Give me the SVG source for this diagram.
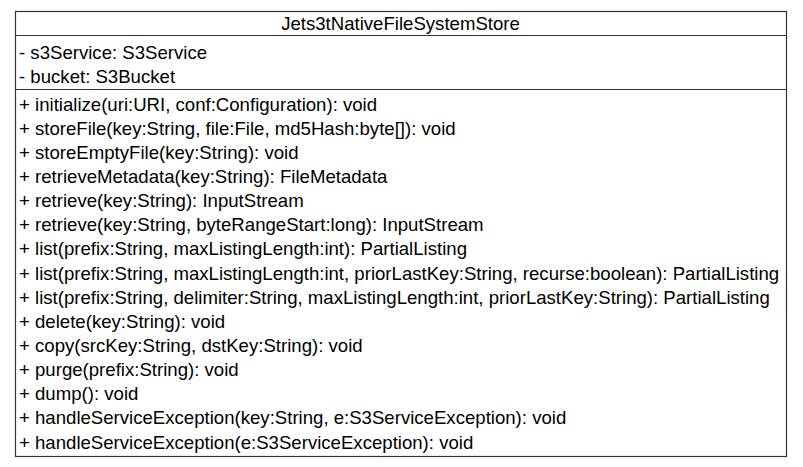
<svg xmlns="http://www.w3.org/2000/svg" width="803" height="467" viewBox="0 0 803 467">
<style>
.t{font-family:"Liberation Sans",Arial,sans-serif;font-size:18.6px;fill:#000}
.b{fill:#fff;stroke:#333;stroke-width:1.2}
.l{stroke:#333;stroke-width:1.2}
</style>
<g id="Jets3tNativeFileSystemStore">
<rect class="b" x="15.5" y="11.5" width="771" height="445"/>
<line class="l" x1="15.5" y1="35.5" x2="786.5" y2="35.5"/>
<line class="l" x1="15.5" y1="89.5" x2="786.5" y2="89.5"/>
<text class="t" x="400.5" y="30" text-anchor="middle">Jets3tNativeFileSystemStore</text>
<text class="t" x="19" y="59">- s3Service: S3Service</text>
<text class="t" x="19" y="83">- bucket: S3Bucket</text>
<text class="t" x="19" y="110.5">+ initialize(uri:URI, conf:Configuration): void</text>
<text class="t" x="19" y="134.6">+ storeFile(key:String, file:File, md5Hash:byte[]): void</text>
<text class="t" x="19" y="158.8">+ storeEmptyFile(key:String): void</text>
<text class="t" x="19" y="182.9">+ retrieveMetadata(key:String): FileMetadata</text>
<text class="t" x="19" y="207.1">+ retrieve(key:String): InputStream</text>
<text class="t" x="19" y="231.2">+ retrieve(key:String, byteRangeStart:long): InputStream</text>
<text class="t" x="19" y="255.3">+ list(prefix:String, maxListingLength:int): PartialListing</text>
<text class="t" x="19" y="279.5">+ list(prefix:String, maxListingLength:int, priorLastKey:String, recurse:boolean): PartialListing</text>
<text class="t" x="19" y="303.6">+ list(prefix:String, delimiter:String, maxListingLength:int, priorLastKey:String): PartialListing</text>
<text class="t" x="19" y="327.8">+ delete(key:String): void</text>
<text class="t" x="19" y="351.9">+ copy(srcKey:String, dstKey:String): void</text>
<text class="t" x="19" y="376.0">+ purge(prefix:String): void</text>
<text class="t" x="19" y="400.2">+ dump(): void</text>
<text class="t" x="19" y="424.3">+ handleServiceException(key:String, e:S3ServiceException): void</text>
<text class="t" x="19" y="448.5">+ handleServiceException(e:S3ServiceException): void</text>
</g>
<g id="connectors"/>
</svg>
